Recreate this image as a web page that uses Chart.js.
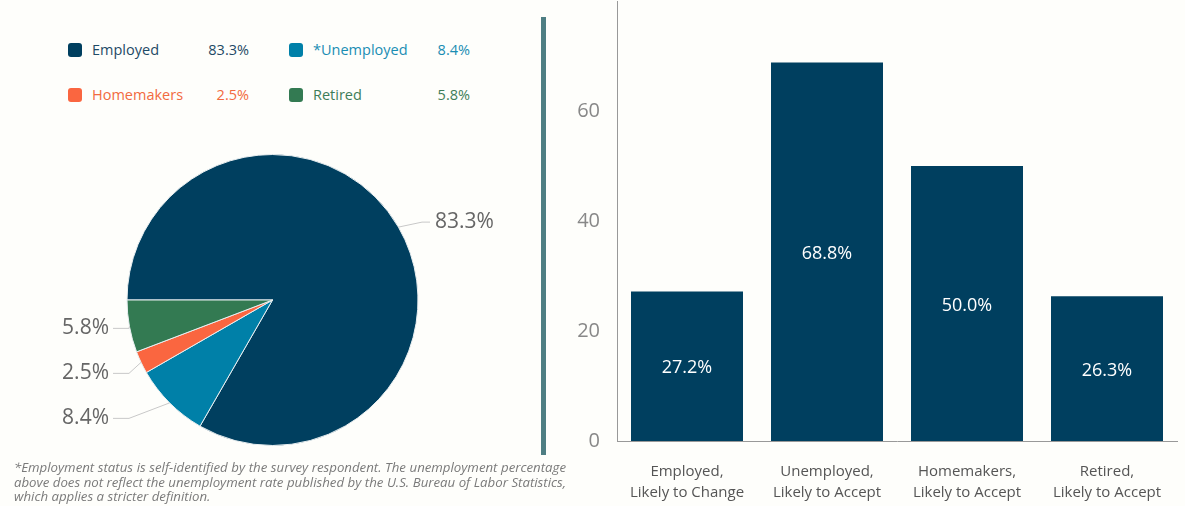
<!DOCTYPE html>
<html>
<head>
<meta charset="utf-8">
<script src="https://cdn.jsdelivr.net/npm/chart.js@4.4.1/dist/chart.umd.min.js"></script>
<style>
    body { margin: 0; background: #fefefb; font-family: 'Open Sans', sans-serif; }
    #page { position: relative; width: 1185px; height: 506px; overflow: hidden; }
    #legend { position: absolute; left: 68px; top: 42px; }
    .item { position: absolute; width: 181px; height: 16px; font-size: 14.5px; line-height: 16px; }
    .item .sw { position: absolute; left: 0; top: 1px; width: 14px; height: 14px; border-radius: 3px; }
    .item .nm { position: absolute; left: 24px; top: 0; }
    .item .vl { position: absolute; right: 0; top: 0; }
    #pieBox { position: absolute; left: 0; top: 140px; width: 545px; height: 320px; }
    #divider { position: absolute; left: 541px; top: 17px; width: 5px; height: 438px; background: #4e7e83; }
    #barBox { position: absolute; left: 550px; top: 0; width: 635px; height: 506px; }
    #note { position: absolute; left: 14px; top: 460px; width: 552px; line-height: 14.5px;
            font-style: italic; color: #7a7a7a; }
    #note div { white-space: nowrap; width: max-content; }
</style>
</head>
<body>
<div id="page">
    <div id="legend"></div>
    <div id="pieBox"><canvas id="pieChart"></canvas></div>
    <div id="divider"></div>
    <div id="barBox"><canvas id="barChart"></canvas></div>
    <div id="note">
        <div>*Employment status is self-identified by the survey respondent. The unemployment percentage</div>
        <div>above does not reflect the unemployment rate published by the U.S. Bureau of Labor Statistics,</div>
        <div>which applies a stricter definition.</div>
    </div>
</div>
<script>
// Employment status pie + likelihood bars

const pieLabels = ['Employed', '*Unemployed', 'Homemakers', 'Retired'];
const pieValues = [83.3, 8.4, 2.5, 5.8];
const pieColors = ['#003f5f', '#0080a8', '#fa6640', '#337a52'];
const legendTextColors = ['#1f4a66', '#1a8db3', '#f26a40', '#3d7d58'];

const barLabels = [
    ['Employed,', 'Likely to Change'],
    ['Unemployed,', 'Likely to Accept'],
    ['Homemakers,', 'Likely to Accept'],
    ['Retired,', 'Likely to Accept']
];
const barValues = [27.2, 68.8, 50.0, 26.3];
const yTicks = [0, 20, 40, 60];

// legend, 2 columns: Employed / *Unemployed, Homemakers / Retired
function buildLegend() {
    const box = document.getElementById('legend');
    pieLabels.forEach((name, i) => {
        const col = i === 1 || i === 3 ? 1 : 0;
        const row = i >= 2 ? 1 : 0;
        const el = document.createElement('div');
        el.className = 'item';
        el.style.left = (col * 221) + 'px';
        el.style.top = (row * 45) + 'px';
        el.style.color = legendTextColors[i];
        el.innerHTML = `<span class="sw" style="background:${pieColors[i]}"></span>
            <span class="nm">${name}</span><span class="vl">${pieValues[i].toFixed(1)}%</span>`;
        box.appendChild(el);
    });
}

// footnote lines stretched to the note width, like the original
function fitNote() {
    const note = document.getElementById('note');
    const lines = note.querySelectorAll('div');
    note.style.fontSize = '11px';
    const w = lines[0].getBoundingClientRect().width;
    note.style.fontSize = (11 * 550 / w).toFixed(2) + 'px';
    [lines[0], lines[1]].forEach(el => {
        const extra = 552 - el.getBoundingClientRect().width;
        const spaces = (el.textContent.match(/ /g) || []).length;
        el.style.wordSpacing = (extra / spaces).toFixed(2) + 'px';
    });
}

// outside labels with leader lines
const pieLabelPlugin = {
    id: 'pieLabels',
    afterDatasetsDraw(chart) {
        const ctx = chart.ctx;
        const arcs = chart.getDatasetMeta(0).data;
        const items = arcs.map((arc, i) => {
            const mid = (arc.startAngle + arc.endAngle) / 2;
            const ex = arc.x + arc.outerRadius * Math.cos(mid);
            const ey = arc.y + arc.outerRadius * Math.sin(mid);
            const right = Math.cos(mid) >= 0;
            return { i, arc, ex, ey, right, y: right ? ey - 5 : ey + 2 };
        });
        const left = items.filter(d => !d.right).sort((a, b) => a.ey - b.ey);
        for (let k = 1; k < left.length; k++) {
            left[k].y = Math.max(left[k].y, left[k - 1].y + 45);
        }
        ctx.save();
        ctx.font = '21px "Open Sans"';
        ctx.textBaseline = 'middle';
        items.forEach(d => {
            const cx = d.arc.x, r = d.arc.outerRadius;
            ctx.strokeStyle = '#c8c8c8';
            ctx.lineWidth = 1;
            ctx.beginPath();
            ctx.moveTo(d.ex, d.ey);
            if (d.right) {
                ctx.lineTo(cx + r + 4, d.y);
                ctx.lineTo(cx + r + 12, d.y);
            } else {
                ctx.lineTo(cx - r + 2, d.y);
                ctx.lineTo(cx - r - 14, d.y);
            }
            ctx.stroke();
            ctx.fillStyle = '#666';
            ctx.textAlign = d.right ? 'left' : 'right';
            const tx = d.right ? cx + r + 17 : cx - r - 18;
            ctx.fillText(pieValues[d.i].toFixed(1) + '%', tx, d.y);
        });
        ctx.restore();
    }
};

const barValuePlugin = {
    id: 'barValues',
    afterDatasetsDraw(chart) {
        const ctx = chart.ctx;
        ctx.save();
        ctx.font = '18px "Open Sans"';
        ctx.fillStyle = '#fff';
        ctx.textAlign = 'center';
        ctx.textBaseline = 'middle';
        chart.getDatasetMeta(0).data.forEach((bar, i) => {
            ctx.fillText(barValues[i].toFixed(1) + '%', bar.x, (bar.y + bar.base) / 2 + 2);
        });
        ctx.restore();
    }
};

function drawPie() {
    new Chart(document.getElementById('pieChart'), {
        type: 'pie',
        data: {
            labels: pieLabels,
            datasets: [{
                data: pieValues,
                backgroundColor: pieColors,
                borderColor: '#e8eef0',
                borderWidth: 1
            }]
        },
        options: {
            responsive: true,
            maintainAspectRatio: false,
            animation: false,
            rotation: -90,
            layout: { padding: 14 },
            plugins: { legend: { display: false }, tooltip: { enabled: false } }
        },
        plugins: [pieLabelPlugin]
    });
}

function drawBars() {
    new Chart(document.getElementById('barChart'), {
        type: 'bar',
        data: {
            labels: barLabels,
            datasets: [{
                data: barValues,
                backgroundColor: '#003f5f',
                categoryPercentage: 0.8,
                barPercentage: 1
            }]
        },
        options: {
            responsive: true,
            maintainAspectRatio: false,
            animation: false,
            layout: { padding: { top: 1, right: 8, left: 0, bottom: 0 } },
            plugins: { legend: { display: false }, tooltip: { enabled: false } },
            scales: {
                x: {
                    grid: { display: false, drawTicks: false },
                    border: { display: true, color: '#999', width: 1 },
                    ticks: {
                        color: '#555',
                        font: { family: 'Open Sans', size: 15, lineHeight: 1.4 },
                        padding: 20,
                        maxRotation: 0
                    },
                    afterFit(scale) {
                        scale.height = 65;
                        scale.paddingLeft = 0;
                        scale.paddingRight = 0;
                    }
                },
                y: {
                    min: 0,
                    max: 80,
                    grid: { display: false, drawTicks: false },
                    border: { display: true, color: '#999', width: 1 },
                    afterBuildTicks(scale) { scale.ticks = yTicks.map(v => ({ value: v })); },
                    ticks: {
                        color: '#888',
                        font: { family: 'Open Sans', size: 20 },
                        padding: 17
                    },
                    afterFit(scale) {
                        scale.width = 67;
                        scale.paddingTop = 0;
                        scale.paddingBottom = 0;
                    }
                }
            }
        },
        plugins: [barValuePlugin]
    });
}

buildLegend();
fitNote();
drawPie();
drawBars();
</script>
</body>
</html>
